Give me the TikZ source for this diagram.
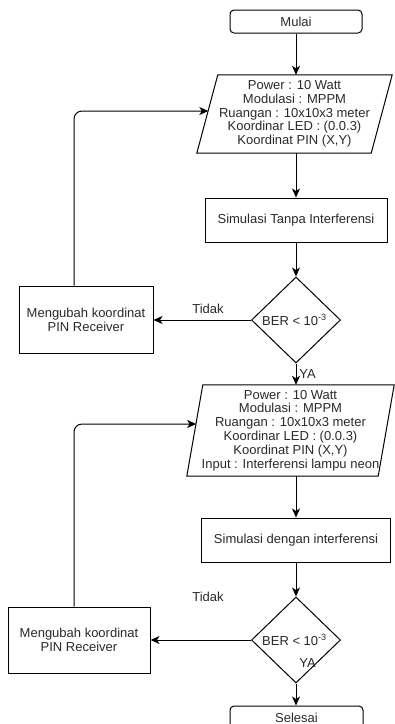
\documentclass[tikz,border=0pt]{standalone}
\usepackage{fontspec}
\setmainfont{Liberation Sans}
\usetikzlibrary{arrows.meta,shapes.geometric}
\definecolor{txt}{HTML}{2A2A2A}
\begin{document}
\begin{tikzpicture}[x=1pt,y=-1pt,
  every node/.style={font=\fontsize{13}{13.8}\selectfont, text=txt, inner sep=0pt},
  line/.style={draw=black, line width=1pt},
  arr/.style={line, -{Stealth[length=9pt,width=8pt,inset=2.5pt]}},
  term/.style={line, rounded corners=4pt, minimum width=132pt, minimum height=23pt},
  procbox/.style={line, minimum height=44pt},
  sidebox/.style={line, align=center, minimum height=67pt},
  decision/.style={line, diamond, aspect=1.03, minimum width=89pt, minimum height=86pt, inner sep=0pt},
  iobox/.style={align=center},
  lbl/.style={}]
\useasboundingbox (0,0) rectangle (395,724);
\fill[white] (0,0) rectangle (395,724);

% spine
\node[term] (mulai) at (296,21.5) {Mulai};
\node[iobox, minimum width=195pt, minimum height=78pt] (in1) at (294.5,114) {Power : 10 Watt\\Modulasi : MPPM\\Ruangan : 10x10x3 meter\\Koordinar LED : (0.0.3)\\Koordinat PIN (X,Y)};
\draw[line] (in1.south west) -- ([xshift=21pt]in1.north west) -- (in1.north east) -- ([xshift=-21pt]in1.south east) -- cycle;
\node[procbox, minimum width=182pt] (b1) at (296,220) {Simulasi Tanpa Interferensi};
\node[decision] (d1) at (296,320) {};
\node at (294.5,320) {BER < 10\textsuperscript{-3}};
\node[sidebox, minimum width=134pt] (m1) at (86,319.5) {Mengubah koordinat\\PIN Receiver};

\node[iobox, minimum width=207pt, minimum height=91pt] (in2) at (290.5,430.5) {Power : 10 Watt\\Modulasi : MPPM\\Ruangan : 10x10x3 meter\\Koordinar LED : (0.0.3)\\Koordinat PIN (X,Y)\\Input : Interferensi lampu neon};
\draw[line] (in2.south west) -- ([xshift=16pt]in2.north west) -- (in2.north east) -- ([xshift=-16pt]in2.south east) -- cycle;
\node[procbox, minimum width=189pt] (b2) at (296,540) {Simulasi dengan interferensi};
\node[decision] (d2) at (296,640) {};
\node at (294.5,640) {BER < 10\textsuperscript{-3}};
\node[sidebox, minimum width=142pt, minimum height=66pt] (m2) at (79,640) {Mengubah koordinat\\PIN Receiver};
\node[term, minimum width=133pt] (sel) at (296.5,717.5) {Selesai};

% loop targets on slanted edges
\coordinate (e1) at (208.3,111);
\coordinate (e2) at (196.1,424);

% connectors
\draw[arr] (mulai.south) -- (mulai.south |- in1.north);
\draw[arr] (b1.north |- in1.south) -- (b1.north);
\draw[arr] (b1.south) -- (d1.north);
\draw[arr] (d1.south) -- (d1.south |- in2.north);
\draw[arr] (d1.west) -- (d1.west -| m1.east);
\draw[arr, rounded corners=8pt] ([xshift=-12pt]m1.north) |- (e1);

\draw[arr] (b2.north |- in2.south) -- (b2.north);
\draw[arr] (b2.south) -- (d2.north);
\draw[arr] (d2.south) -- (d2.south |- sel.north);
\draw[arr] (d2.west) -- (d2.west -| m2.east);
\draw[arr, rounded corners=8pt] ([xshift=-5pt]m2.north) |- (e2);

% labels
\node[lbl] (t1) at (208,309) {Tidak};
\node[lbl] (y1) at (307.5,374) {YA};
\node[lbl] (t2) at (208,597) {Tidak};
\node[lbl] (y2) at (307.5,663) {YA};
\end{tikzpicture}
\end{document}
